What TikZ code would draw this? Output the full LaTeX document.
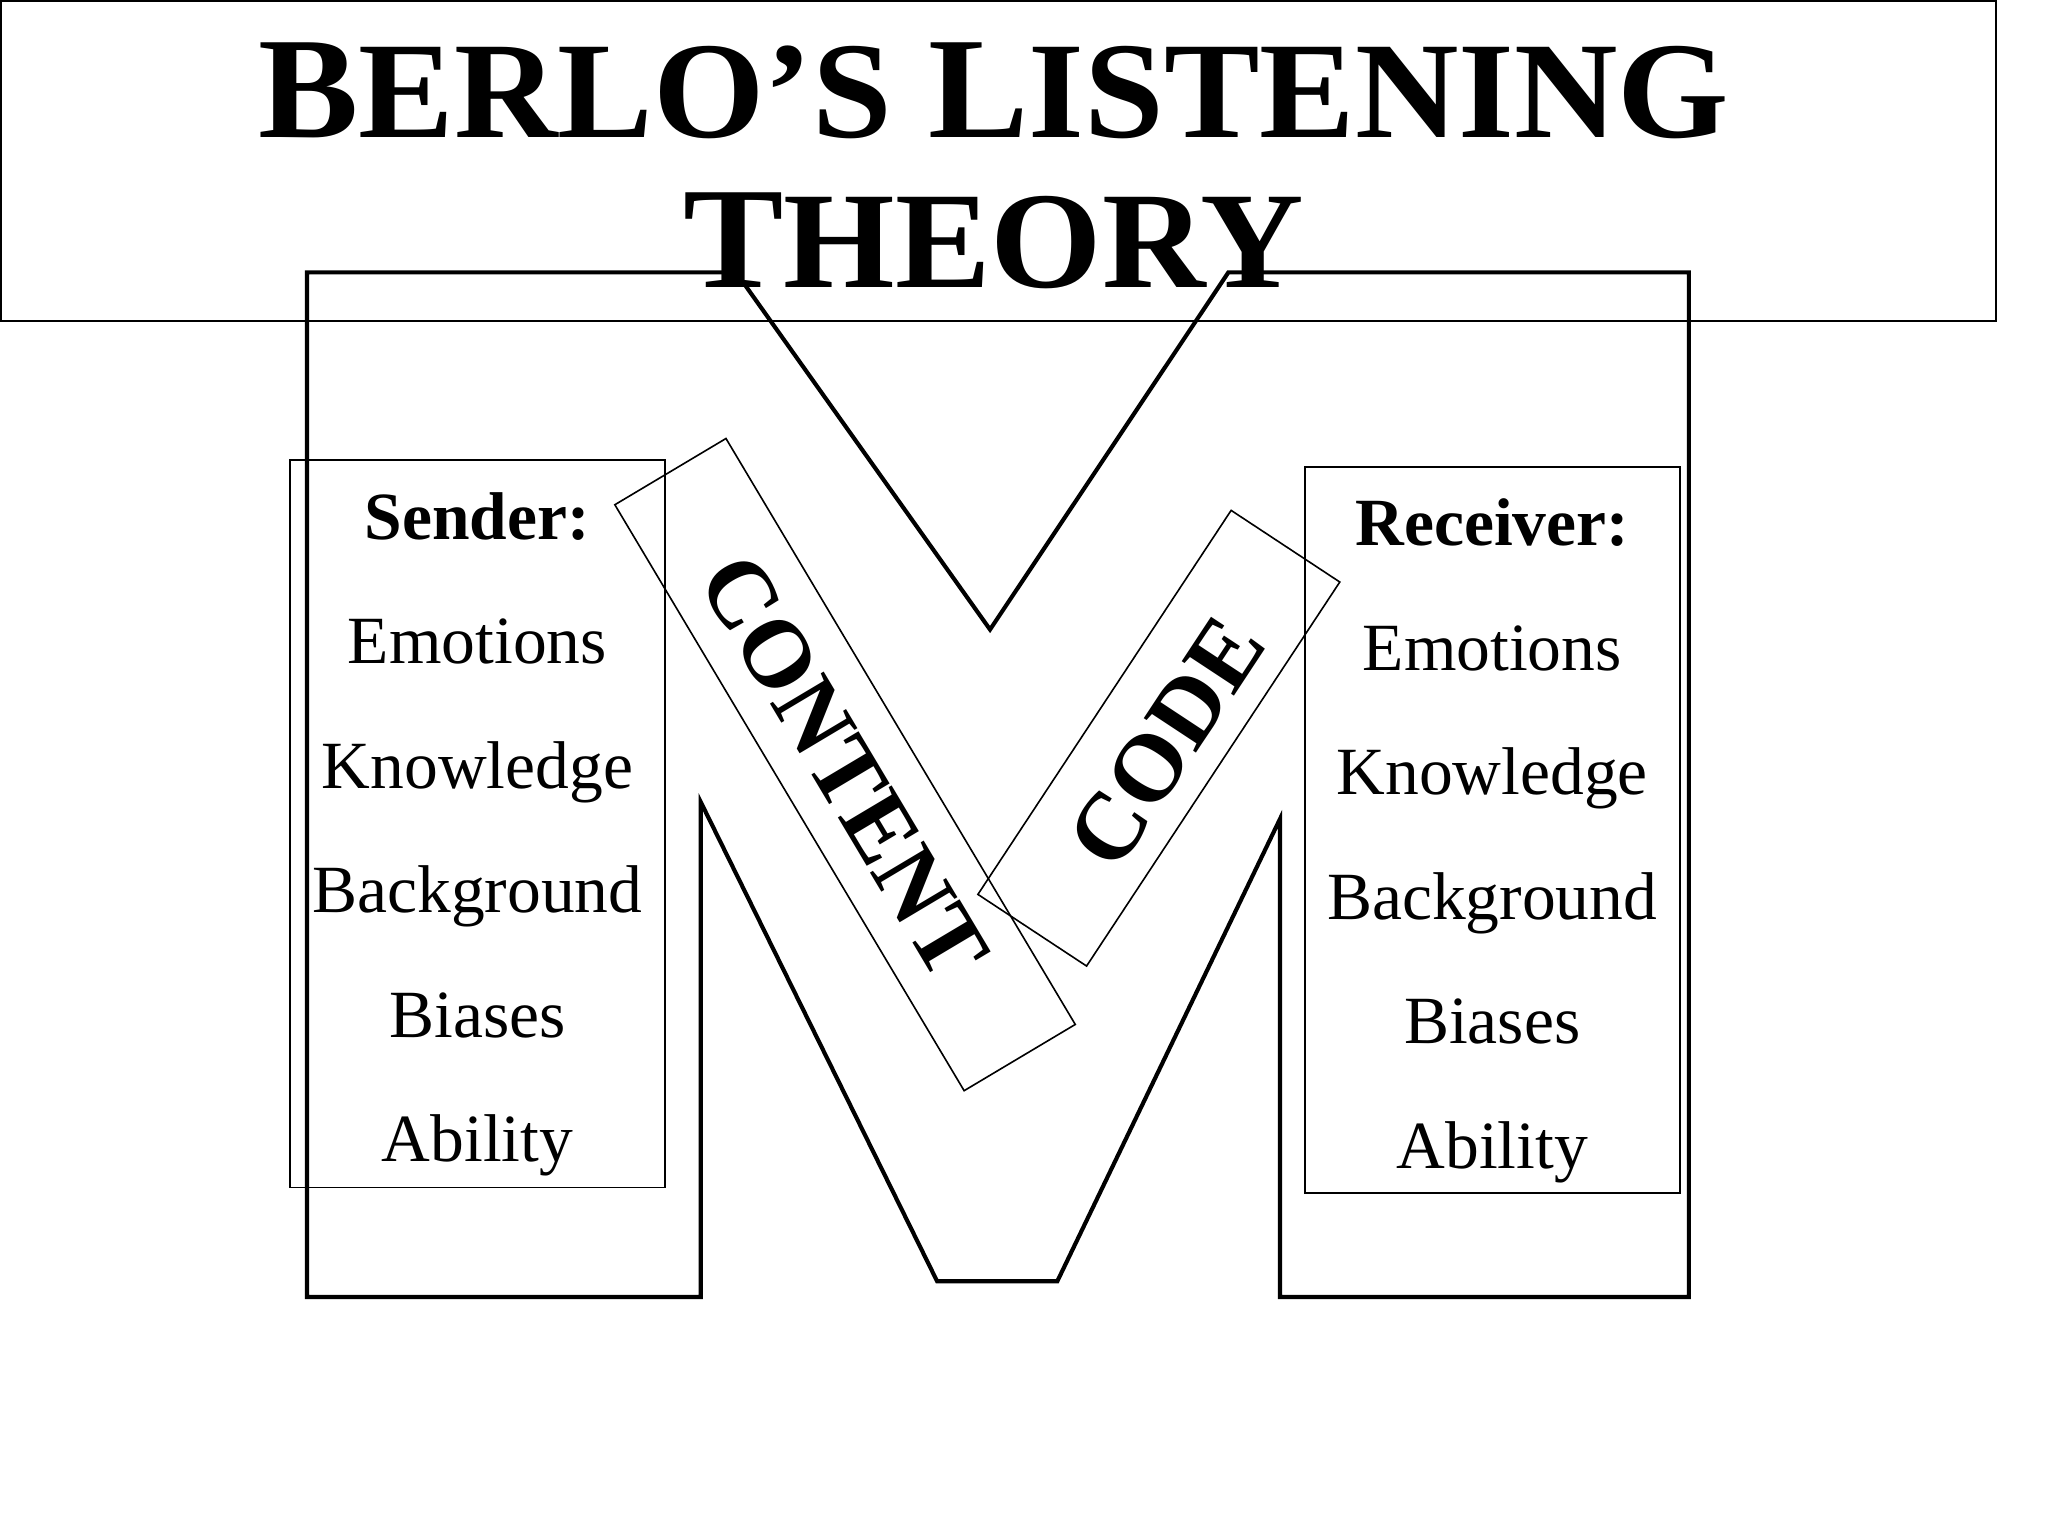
\documentclass[tikz,border=0pt]{standalone}
\usepackage{graphicx}
\usepackage{fontspec}
\setmainfont{Liberation Serif}
\newcommand\capL[1]{{\fontsize{31.5pt}{36pt}\selectfont #1}}
\begin{document}
\begin{tikzpicture}[x=0.01cm,y=-0.01cm,
  mline/.style={line width=0.9pt, line join=miter},
  thinbox/.style={draw, line width=0.35pt, inner sep=0pt, outer sep=0pt},
  item/.style={anchor=base, inner sep=0pt, font=\fontsize{14.7pt}{17pt}\selectfont},
  head/.style={anchor=base, inner sep=0pt, font=\fontsize{14.7pt}{17pt}\selectfont\bfseries},
  vlabel/.style={inner sep=0pt, font=\fontsize{20.8pt}{24pt}\selectfont\bfseries},
  titleline/.style={anchor=base, inner sep=0pt, font=\fontsize{30pt}{36pt}\selectfont\bfseries}]
\useasboundingbox (0,0) rectangle (1568,1176);

% title box and title
\node[draw, line width=0.45pt, inner sep=0pt, outer sep=0pt, anchor=north west,
      minimum width=15.27cm, minimum height=2.45cm] (titlebox) at (0.6,0.6) {};
\node[titleline] (title1) at (761,105.5) {\scalebox{1.04}[1]{\capL{B}ERLO’S \capL{L}ISTENING}};
\node[titleline] (title2) at (761,220.5) {\scalebox{1.04}[1]{\capL{T}HEORY}};

% the M
\draw[mline] (235,208.5) -- (563.5,208.5) -- (758,482) -- (940.5,208.5) -- (1293,208.5)
  -- (1293,993) -- (980,993) -- (980,627) -- (809.5,981) -- (717.5,981)
  -- (536.5,614) -- (536.5,993) -- (235,993) -- cycle;

% sender box
\node[thinbox, minimum width=2.87cm, minimum height=5.565cm] (sbox) at (365.5,630.75) {};
\node[head] (s0) at (365.5,413) {Sender:};
\node[item] (s1) at (365.5,508) {Emotions};
\node[item] (s2) at (365.5,603.5) {Knowledge};
\node[item] (s3) at (365.5,699) {Background};
\node[item] (s4) at (365.5,794) {Biases};
\node[item] (s5) at (365.5,889) {Ability};

% receiver box
\node[thinbox, minimum width=2.87cm, minimum height=5.555cm] (rbox) at (1142.5,635.25) {};
\node[head] (r0) at (1142.5,418) {Receiver:};
\node[item] (r1) at (1142.5,513) {Emotions};
\node[item] (r2) at (1142.5,608.5) {Knowledge};
\node[item] (r3) at (1142.5,704) {Background};
\node[item] (r4) at (1142.5,799) {Biases};
\node[item] (r5) at (1142.5,895) {Ability};

% content and code labels
\node[thinbox, rotate=-59.2, minimum width=5.22cm, minimum height=0.99cm] (contentbox) at (647,585.4) {};
\node[vlabel, rotate=-59.2] (content) at (646,587) {CONTENT};
\node[thinbox, rotate=56.6, minimum width=3.52cm, minimum height=0.996cm] (codebox) at (887.25,565.2) {};
\node[vlabel, rotate=56.6] (code) at (893,568) {CODE};
\end{tikzpicture}
\end{document}
